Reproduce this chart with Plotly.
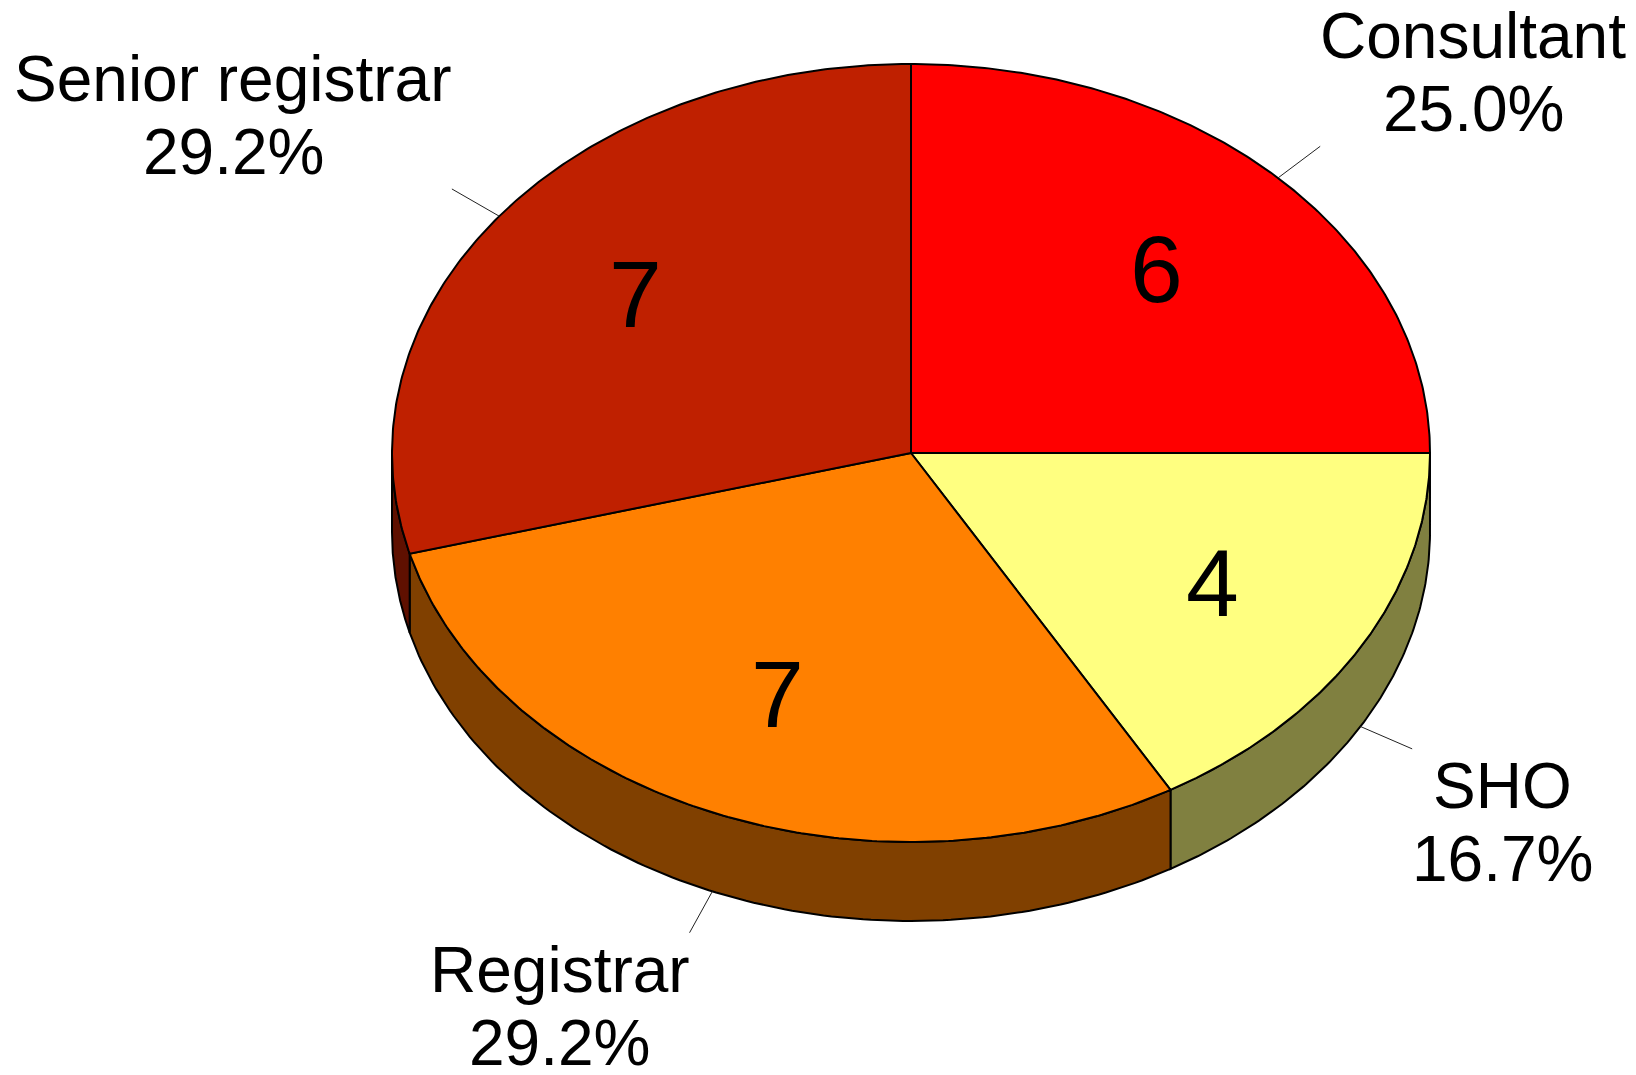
import numpy as np
import plotly.graph_objects as go

# ---- data ----
categories = ["Consultant", "SHO", "Registrar", "Senior registrar"]
counts = [6, 4, 7, 7]
top_colors = ["#FF0000", "#FFFF80", "#FF8000", "#BF2000"]
side_colors = ["#800000", "#808040", "#804000", "#5F1000"]

# ---- geometry (layout) ----
W, H = 1636, 1075
CX, CY = 911, 453
RX, RY = 519, 389
DEPTH = 79
START = 90.0
LABEL_R = 0.67
LEADER_OUT = 1.115
FONT = "Liberation Sans, Arial, sans-serif"
LBL_SIZE = 64
NUM_SIZE = 95
EDGE_W = 2

# Arial advance widths (per 1000 em) for text-block centring
AW = {"C": 722, "o": 556, "n": 556, "s": 500, "u": 556, "l": 222, "t": 278,
      "a": 556, "S": 667, "e": 556, "i": 222, "r": 333, "g": 556, "H": 722,
      "O": 778, "R": 722, " ": 278, ".": 278, "%": 889}
def text_w(s, size):
    return sum(AW.get(ch, 556) for ch in s) * size / 1000.0

def pt(theta_deg, scale=1.0, dy=0.0):
    t = np.radians(theta_deg)
    return CX + scale * RX * np.cos(t), CY - scale * RY * np.sin(t) + dy

fig = go.Figure()
total = sum(counts)

angles = []
a = START
for c in counts:
    b = a - 360.0 * c / total
    angles.append((a, b))
    a = b

# side faces (front half: -180..0)
for (a, b), col in zip(angles, side_colors):
    for shift in (0, 360, -360):
        h2, l2 = a + shift, b + shift
        fh, fl = min(h2, 0), max(l2, -180)
        if fh > fl:
            th = np.linspace(fh, fl, 120)
            xs_t, ys_t = pt(th)
            xs_b, ys_b = pt(th[::-1], dy=DEPTH)
            xs = np.concatenate([xs_t, xs_b, xs_t[:1]])
            ys = np.concatenate([ys_t, ys_b, ys_t[:1]])
            fig.add_trace(go.Scatter(x=xs, y=ys, mode="lines", fill="toself",
                                     fillcolor=col, line=dict(color="black", width=EDGE_W),
                                     hoverinfo="skip", showlegend=False))

# top faces
for (a, b), col in zip(angles, top_colors):
    th = np.linspace(a, b, 200)
    xs, ys = pt(th)
    xs = np.concatenate([[CX], xs, [CX]])
    ys = np.concatenate([[CY], ys, [CY]])
    fig.add_trace(go.Scatter(x=xs, y=ys, mode="lines", fill="toself",
                             fillcolor=col, line=dict(color="black", width=EDGE_W),
                             hoverinfo="skip", showlegend=False))

annotations = []
for (a, b), cat, c in zip(angles, categories, counts):
    mid = (a + b) / 2.0
    tm = np.radians(mid)
    front = np.sin(tm) < 0
    dy = DEPTH if front else 0.0
    x0, y0 = pt(mid, 1.0, dy)
    x1, y1 = pt(mid, LEADER_OUT, dy)
    fig.add_trace(go.Scatter(x=[x0, x1], y=[y0, y1], mode="lines",
                             line=dict(color="#222222", width=1),
                             hoverinfo="skip", showlegend=False))
    # value label inside
    lx, ly = pt(mid, LABEL_R)
    annotations.append(dict(x=lx, y=ly, xref="x", yref="y", text=str(c),
                            showarrow=False, font=dict(size=NUM_SIZE, color="black", family=FONT),
                            xanchor="center", yanchor="middle"))
    pct_txt = f"{100.0 * c / total:.1f}%"
    bw = max(text_w(cat, LBL_SIZE), text_w(pct_txt, LBL_SIZE))
    bx = x1 + bw / 2 if np.cos(tm) > 0 else x1 - bw / 2
    if front:
        y_name, y_pct = y1 + 37, y1 + 110
    else:
        y_name, y_pct = y1 - 110, y1 - 37
    for txt, yy in ((cat, y_name), (pct_txt, y_pct)):
        annotations.append(dict(x=bx, y=yy, xref="x", yref="y", text=txt,
                                showarrow=False,
                                font=dict(size=LBL_SIZE, color="black", family=FONT),
                                xanchor="center", yanchor="middle", borderpad=0))

fig.update_layout(
    width=W, height=H, margin=dict(l=0, r=0, t=0, b=0),
    paper_bgcolor="white", plot_bgcolor="white",
    xaxis=dict(range=[0, W], visible=False, fixedrange=True),
    yaxis=dict(range=[H, 0], visible=False, fixedrange=True),
    annotations=annotations,
)
fig.write_html("out.html", config={"displayModeBar": False},
               post_script="document.body.style.margin='0';")
